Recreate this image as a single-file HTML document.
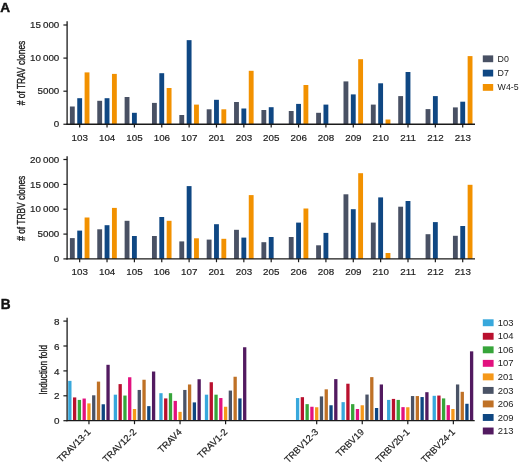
<!DOCTYPE html>
<html><head><meta charset="utf-8"><style>
html,body{margin:0;padding:0;background:#fff;}
svg{display:block;}
text{font-family:"Liberation Sans", sans-serif;}
</style></head><body>
<svg width="520" height="466" viewBox="0 0 520 466">
<rect width="520" height="466" fill="#fff"/>
<rect x="69.90" y="106.50" width="4.85" height="17.75" fill="#495164"/>
<rect x="77.25" y="98.20" width="4.85" height="26.05" fill="#0f4783"/>
<rect x="84.60" y="72.40" width="4.85" height="51.85" fill="#f29100"/>
<rect x="97.26" y="100.80" width="4.85" height="23.45" fill="#495164"/>
<rect x="104.61" y="98.20" width="4.85" height="26.05" fill="#0f4783"/>
<rect x="111.96" y="73.90" width="4.85" height="50.35" fill="#f29100"/>
<rect x="124.62" y="97.00" width="4.85" height="27.25" fill="#495164"/>
<rect x="131.97" y="112.80" width="4.85" height="11.45" fill="#0f4783"/>
<rect x="151.98" y="102.90" width="4.85" height="21.35" fill="#495164"/>
<rect x="159.33" y="73.20" width="4.85" height="51.05" fill="#0f4783"/>
<rect x="166.68" y="88.00" width="4.85" height="36.25" fill="#f29100"/>
<rect x="179.34" y="115.00" width="4.85" height="9.25" fill="#495164"/>
<rect x="186.69" y="40.15" width="4.85" height="84.10" fill="#0f4783"/>
<rect x="194.04" y="104.60" width="4.85" height="19.65" fill="#f29100"/>
<rect x="206.70" y="109.30" width="4.85" height="14.95" fill="#495164"/>
<rect x="214.05" y="99.80" width="4.85" height="24.45" fill="#0f4783"/>
<rect x="221.40" y="109.30" width="4.85" height="14.95" fill="#f29100"/>
<rect x="234.06" y="102.00" width="4.85" height="22.25" fill="#495164"/>
<rect x="241.41" y="108.50" width="4.85" height="15.75" fill="#0f4783"/>
<rect x="248.76" y="70.80" width="4.85" height="53.45" fill="#f29100"/>
<rect x="261.42" y="110.00" width="4.85" height="14.25" fill="#495164"/>
<rect x="268.77" y="107.20" width="4.85" height="17.05" fill="#0f4783"/>
<rect x="288.78" y="111.00" width="4.85" height="13.25" fill="#495164"/>
<rect x="296.13" y="103.90" width="4.85" height="20.35" fill="#0f4783"/>
<rect x="303.48" y="85.00" width="4.85" height="39.25" fill="#f29100"/>
<rect x="316.14" y="112.80" width="4.85" height="11.45" fill="#495164"/>
<rect x="323.49" y="104.60" width="4.85" height="19.65" fill="#0f4783"/>
<rect x="343.50" y="81.40" width="4.85" height="42.85" fill="#495164"/>
<rect x="350.85" y="94.40" width="4.85" height="29.85" fill="#0f4783"/>
<rect x="358.20" y="59.20" width="4.85" height="65.05" fill="#f29100"/>
<rect x="370.86" y="104.60" width="4.85" height="19.65" fill="#495164"/>
<rect x="378.21" y="83.30" width="4.85" height="40.95" fill="#0f4783"/>
<rect x="385.56" y="119.50" width="4.85" height="4.75" fill="#f29100"/>
<rect x="398.22" y="96.10" width="4.85" height="28.15" fill="#495164"/>
<rect x="405.57" y="72.00" width="4.85" height="52.25" fill="#0f4783"/>
<rect x="425.58" y="109.10" width="4.85" height="15.15" fill="#495164"/>
<rect x="432.93" y="96.10" width="4.85" height="28.15" fill="#0f4783"/>
<rect x="452.94" y="107.40" width="4.85" height="16.85" fill="#495164"/>
<rect x="460.29" y="101.70" width="4.85" height="22.55" fill="#0f4783"/>
<rect x="467.64" y="56.10" width="4.85" height="68.15" fill="#f29100"/>
<line x1="67.1" y1="21.2" x2="67.1" y2="124.85" stroke="#1a1a1a" stroke-width="1.3"/>
<line x1="66.5" y1="124.25" x2="475" y2="124.25" stroke="#1a1a1a" stroke-width="1.3"/>
<line x1="63.4" y1="25.0" x2="67.1" y2="25.0" stroke="#1a1a1a" stroke-width="1.2"/>
<line x1="63.4" y1="58.1" x2="67.1" y2="58.1" stroke="#1a1a1a" stroke-width="1.2"/>
<line x1="63.4" y1="91.2" x2="67.1" y2="91.2" stroke="#1a1a1a" stroke-width="1.2"/>
<line x1="63.4" y1="124.25" x2="67.1" y2="124.25" stroke="#1a1a1a" stroke-width="1.2"/>
<line x1="79.67" y1="124.25" x2="79.67" y2="127.55" stroke="#1a1a1a" stroke-width="1.2"/>
<line x1="107.03" y1="124.25" x2="107.03" y2="127.55" stroke="#1a1a1a" stroke-width="1.2"/>
<line x1="134.40" y1="124.25" x2="134.40" y2="127.55" stroke="#1a1a1a" stroke-width="1.2"/>
<line x1="161.76" y1="124.25" x2="161.76" y2="127.55" stroke="#1a1a1a" stroke-width="1.2"/>
<line x1="189.12" y1="124.25" x2="189.12" y2="127.55" stroke="#1a1a1a" stroke-width="1.2"/>
<line x1="216.48" y1="124.25" x2="216.48" y2="127.55" stroke="#1a1a1a" stroke-width="1.2"/>
<line x1="243.84" y1="124.25" x2="243.84" y2="127.55" stroke="#1a1a1a" stroke-width="1.2"/>
<line x1="271.19" y1="124.25" x2="271.19" y2="127.55" stroke="#1a1a1a" stroke-width="1.2"/>
<line x1="298.56" y1="124.25" x2="298.56" y2="127.55" stroke="#1a1a1a" stroke-width="1.2"/>
<line x1="325.92" y1="124.25" x2="325.92" y2="127.55" stroke="#1a1a1a" stroke-width="1.2"/>
<line x1="353.28" y1="124.25" x2="353.28" y2="127.55" stroke="#1a1a1a" stroke-width="1.2"/>
<line x1="380.64" y1="124.25" x2="380.64" y2="127.55" stroke="#1a1a1a" stroke-width="1.2"/>
<line x1="408.00" y1="124.25" x2="408.00" y2="127.55" stroke="#1a1a1a" stroke-width="1.2"/>
<line x1="435.36" y1="124.25" x2="435.36" y2="127.55" stroke="#1a1a1a" stroke-width="1.2"/>
<line x1="462.71" y1="124.25" x2="462.71" y2="127.55" stroke="#1a1a1a" stroke-width="1.2"/>
<rect x="69.90" y="238.10" width="4.85" height="20.80" fill="#495164"/>
<rect x="77.25" y="230.60" width="4.85" height="28.30" fill="#0f4783"/>
<rect x="84.60" y="217.50" width="4.85" height="41.40" fill="#f29100"/>
<rect x="97.26" y="229.30" width="4.85" height="29.60" fill="#495164"/>
<rect x="104.61" y="225.20" width="4.85" height="33.70" fill="#0f4783"/>
<rect x="111.96" y="207.90" width="4.85" height="51.00" fill="#f29100"/>
<rect x="124.62" y="220.80" width="4.85" height="38.10" fill="#495164"/>
<rect x="131.97" y="236.00" width="4.85" height="22.90" fill="#0f4783"/>
<rect x="151.98" y="236.00" width="4.85" height="22.90" fill="#495164"/>
<rect x="159.33" y="217.00" width="4.85" height="41.90" fill="#0f4783"/>
<rect x="166.68" y="220.80" width="4.85" height="38.10" fill="#f29100"/>
<rect x="179.34" y="241.40" width="4.85" height="17.50" fill="#495164"/>
<rect x="186.69" y="186.10" width="4.85" height="72.80" fill="#0f4783"/>
<rect x="194.04" y="238.30" width="4.85" height="20.60" fill="#f29100"/>
<rect x="206.70" y="239.60" width="4.85" height="19.30" fill="#495164"/>
<rect x="214.05" y="224.20" width="4.85" height="34.70" fill="#0f4783"/>
<rect x="221.40" y="238.80" width="4.85" height="20.10" fill="#f29100"/>
<rect x="234.06" y="229.80" width="4.85" height="29.10" fill="#495164"/>
<rect x="241.41" y="237.60" width="4.85" height="21.30" fill="#0f4783"/>
<rect x="248.76" y="195.10" width="4.85" height="63.80" fill="#f29100"/>
<rect x="261.42" y="242.20" width="4.85" height="16.70" fill="#495164"/>
<rect x="268.77" y="237.00" width="4.85" height="21.90" fill="#0f4783"/>
<rect x="288.78" y="237.00" width="4.85" height="21.90" fill="#495164"/>
<rect x="296.13" y="222.60" width="4.85" height="36.30" fill="#0f4783"/>
<rect x="303.48" y="208.50" width="4.85" height="50.40" fill="#f29100"/>
<rect x="316.14" y="245.30" width="4.85" height="13.60" fill="#495164"/>
<rect x="323.49" y="232.90" width="4.85" height="26.00" fill="#0f4783"/>
<rect x="343.50" y="194.30" width="4.85" height="64.60" fill="#495164"/>
<rect x="350.85" y="209.20" width="4.85" height="49.70" fill="#0f4783"/>
<rect x="358.20" y="173.20" width="4.85" height="85.70" fill="#f29100"/>
<rect x="370.86" y="222.60" width="4.85" height="36.30" fill="#495164"/>
<rect x="378.21" y="197.40" width="4.85" height="61.50" fill="#0f4783"/>
<rect x="385.56" y="253.00" width="4.85" height="5.90" fill="#f29100"/>
<rect x="398.22" y="206.70" width="4.85" height="52.20" fill="#495164"/>
<rect x="405.57" y="201.00" width="4.85" height="57.90" fill="#0f4783"/>
<rect x="425.58" y="234.20" width="4.85" height="24.70" fill="#495164"/>
<rect x="432.93" y="222.10" width="4.85" height="36.80" fill="#0f4783"/>
<rect x="452.94" y="235.80" width="4.85" height="23.10" fill="#495164"/>
<rect x="460.29" y="226.00" width="4.85" height="32.90" fill="#0f4783"/>
<rect x="467.64" y="184.80" width="4.85" height="74.10" fill="#f29100"/>
<line x1="67.1" y1="156.2" x2="67.1" y2="259.5" stroke="#1a1a1a" stroke-width="1.3"/>
<line x1="66.5" y1="258.9" x2="475" y2="258.9" stroke="#1a1a1a" stroke-width="1.3"/>
<line x1="63.4" y1="159.5" x2="67.1" y2="159.5" stroke="#1a1a1a" stroke-width="1.2"/>
<line x1="63.4" y1="184.4" x2="67.1" y2="184.4" stroke="#1a1a1a" stroke-width="1.2"/>
<line x1="63.4" y1="209.2" x2="67.1" y2="209.2" stroke="#1a1a1a" stroke-width="1.2"/>
<line x1="63.4" y1="234.1" x2="67.1" y2="234.1" stroke="#1a1a1a" stroke-width="1.2"/>
<line x1="63.4" y1="258.9" x2="67.1" y2="258.9" stroke="#1a1a1a" stroke-width="1.2"/>
<line x1="79.67" y1="258.9" x2="79.67" y2="262.2" stroke="#1a1a1a" stroke-width="1.2"/>
<line x1="107.03" y1="258.9" x2="107.03" y2="262.2" stroke="#1a1a1a" stroke-width="1.2"/>
<line x1="134.40" y1="258.9" x2="134.40" y2="262.2" stroke="#1a1a1a" stroke-width="1.2"/>
<line x1="161.76" y1="258.9" x2="161.76" y2="262.2" stroke="#1a1a1a" stroke-width="1.2"/>
<line x1="189.12" y1="258.9" x2="189.12" y2="262.2" stroke="#1a1a1a" stroke-width="1.2"/>
<line x1="216.48" y1="258.9" x2="216.48" y2="262.2" stroke="#1a1a1a" stroke-width="1.2"/>
<line x1="243.84" y1="258.9" x2="243.84" y2="262.2" stroke="#1a1a1a" stroke-width="1.2"/>
<line x1="271.19" y1="258.9" x2="271.19" y2="262.2" stroke="#1a1a1a" stroke-width="1.2"/>
<line x1="298.56" y1="258.9" x2="298.56" y2="262.2" stroke="#1a1a1a" stroke-width="1.2"/>
<line x1="325.92" y1="258.9" x2="325.92" y2="262.2" stroke="#1a1a1a" stroke-width="1.2"/>
<line x1="353.28" y1="258.9" x2="353.28" y2="262.2" stroke="#1a1a1a" stroke-width="1.2"/>
<line x1="380.64" y1="258.9" x2="380.64" y2="262.2" stroke="#1a1a1a" stroke-width="1.2"/>
<line x1="408.00" y1="258.9" x2="408.00" y2="262.2" stroke="#1a1a1a" stroke-width="1.2"/>
<line x1="435.36" y1="258.9" x2="435.36" y2="262.2" stroke="#1a1a1a" stroke-width="1.2"/>
<line x1="462.71" y1="258.9" x2="462.71" y2="262.2" stroke="#1a1a1a" stroke-width="1.2"/>
<rect x="482.8" y="55.40" width="10.4" height="6.8" fill="#495164"/>
<rect x="482.8" y="69.70" width="10.4" height="6.8" fill="#0f4783"/>
<rect x="482.8" y="84.00" width="10.4" height="6.8" fill="#f29100"/>
<rect x="68.20" y="380.86" width="3.3" height="39.84" fill="#38a8dc"/>
<rect x="72.98" y="397.42" width="3.3" height="23.28" fill="#b9102e"/>
<rect x="77.75" y="399.91" width="3.3" height="20.79" fill="#37a53a"/>
<rect x="82.53" y="398.54" width="3.3" height="22.16" fill="#e2117f"/>
<rect x="87.30" y="403.39" width="3.3" height="17.31" fill="#f5981a"/>
<rect x="92.08" y="395.30" width="3.3" height="25.40" fill="#4a5366"/>
<rect x="96.85" y="381.61" width="3.3" height="39.09" fill="#bf7126"/>
<rect x="101.62" y="404.27" width="3.3" height="16.43" fill="#0e4681"/>
<rect x="106.40" y="364.80" width="3.3" height="55.90" fill="#521a60"/>
<rect x="113.75" y="394.68" width="3.3" height="26.02" fill="#38a8dc"/>
<rect x="118.53" y="384.10" width="3.3" height="36.60" fill="#b9102e"/>
<rect x="123.30" y="395.55" width="3.3" height="25.15" fill="#37a53a"/>
<rect x="128.07" y="377.25" width="3.3" height="43.45" fill="#e2117f"/>
<rect x="132.85" y="409.00" width="3.3" height="11.70" fill="#f5981a"/>
<rect x="137.62" y="389.95" width="3.3" height="30.75" fill="#4a5366"/>
<rect x="142.40" y="379.74" width="3.3" height="40.96" fill="#bf7126"/>
<rect x="147.18" y="406.13" width="3.3" height="14.57" fill="#0e4681"/>
<rect x="151.95" y="371.52" width="3.3" height="49.18" fill="#521a60"/>
<rect x="159.30" y="393.19" width="3.3" height="27.51" fill="#38a8dc"/>
<rect x="164.08" y="398.41" width="3.3" height="22.29" fill="#b9102e"/>
<rect x="168.85" y="393.19" width="3.3" height="27.51" fill="#37a53a"/>
<rect x="173.62" y="400.90" width="3.3" height="19.80" fill="#e2117f"/>
<rect x="178.40" y="411.86" width="3.3" height="8.84" fill="#f5981a"/>
<rect x="183.18" y="389.95" width="3.3" height="30.75" fill="#4a5366"/>
<rect x="187.95" y="384.47" width="3.3" height="36.23" fill="#bf7126"/>
<rect x="192.73" y="402.40" width="3.3" height="18.30" fill="#0e4681"/>
<rect x="197.50" y="379.24" width="3.3" height="41.46" fill="#521a60"/>
<rect x="204.85" y="394.68" width="3.3" height="26.02" fill="#38a8dc"/>
<rect x="209.62" y="382.23" width="3.3" height="38.47" fill="#b9102e"/>
<rect x="214.40" y="394.68" width="3.3" height="26.02" fill="#37a53a"/>
<rect x="219.17" y="398.04" width="3.3" height="22.66" fill="#e2117f"/>
<rect x="223.95" y="406.76" width="3.3" height="13.94" fill="#f5981a"/>
<rect x="228.72" y="390.57" width="3.3" height="30.13" fill="#4a5366"/>
<rect x="233.50" y="376.75" width="3.3" height="43.95" fill="#bf7126"/>
<rect x="238.27" y="398.41" width="3.3" height="22.29" fill="#0e4681"/>
<rect x="243.05" y="347.25" width="3.3" height="73.45" fill="#521a60"/>
<rect x="295.95" y="398.04" width="3.3" height="22.66" fill="#38a8dc"/>
<rect x="300.72" y="397.17" width="3.3" height="23.53" fill="#b9102e"/>
<rect x="305.50" y="404.14" width="3.3" height="16.56" fill="#37a53a"/>
<rect x="310.27" y="406.76" width="3.3" height="13.94" fill="#e2117f"/>
<rect x="315.05" y="407.25" width="3.3" height="13.45" fill="#f5981a"/>
<rect x="319.82" y="396.42" width="3.3" height="24.28" fill="#4a5366"/>
<rect x="324.60" y="389.33" width="3.3" height="31.37" fill="#bf7126"/>
<rect x="329.38" y="405.26" width="3.3" height="15.44" fill="#0e4681"/>
<rect x="334.15" y="379.12" width="3.3" height="41.58" fill="#521a60"/>
<rect x="341.50" y="402.15" width="3.3" height="18.55" fill="#38a8dc"/>
<rect x="346.27" y="383.72" width="3.3" height="36.98" fill="#b9102e"/>
<rect x="351.05" y="404.14" width="3.3" height="16.56" fill="#37a53a"/>
<rect x="355.82" y="409.00" width="3.3" height="11.70" fill="#e2117f"/>
<rect x="360.60" y="405.26" width="3.3" height="15.44" fill="#f5981a"/>
<rect x="365.37" y="394.56" width="3.3" height="26.14" fill="#4a5366"/>
<rect x="370.15" y="377.12" width="3.3" height="43.57" fill="#bf7126"/>
<rect x="374.92" y="408.00" width="3.3" height="12.70" fill="#0e4681"/>
<rect x="379.70" y="384.47" width="3.3" height="36.23" fill="#521a60"/>
<rect x="387.05" y="399.91" width="3.3" height="20.79" fill="#38a8dc"/>
<rect x="391.82" y="398.91" width="3.3" height="21.79" fill="#b9102e"/>
<rect x="396.60" y="399.91" width="3.3" height="20.79" fill="#37a53a"/>
<rect x="401.37" y="407.13" width="3.3" height="13.57" fill="#e2117f"/>
<rect x="406.15" y="407.25" width="3.3" height="13.45" fill="#f5981a"/>
<rect x="410.92" y="396.05" width="3.3" height="24.65" fill="#4a5366"/>
<rect x="415.70" y="396.05" width="3.3" height="24.65" fill="#bf7126"/>
<rect x="420.47" y="397.05" width="3.3" height="23.65" fill="#0e4681"/>
<rect x="425.25" y="392.19" width="3.3" height="28.51" fill="#521a60"/>
<rect x="432.60" y="395.80" width="3.3" height="24.90" fill="#38a8dc"/>
<rect x="437.27" y="395.55" width="3.3" height="25.15" fill="#b9102e"/>
<rect x="441.94" y="398.41" width="3.3" height="22.29" fill="#37a53a"/>
<rect x="446.61" y="405.14" width="3.3" height="15.56" fill="#e2117f"/>
<rect x="451.28" y="409.00" width="3.3" height="11.70" fill="#f5981a"/>
<rect x="455.95" y="384.47" width="3.3" height="36.23" fill="#4a5366"/>
<rect x="460.62" y="391.82" width="3.3" height="28.88" fill="#bf7126"/>
<rect x="465.29" y="403.77" width="3.3" height="16.93" fill="#0e4681"/>
<rect x="469.96" y="351.35" width="3.3" height="69.35" fill="#521a60"/>
<line x1="67.1" y1="317.8" x2="67.1" y2="421.3" stroke="#1a1a1a" stroke-width="1.3"/>
<line x1="66.5" y1="420.7" x2="474.7" y2="420.7" stroke="#1a1a1a" stroke-width="1.3"/>
<line x1="63.4" y1="420.70" x2="67.1" y2="420.70" stroke="#1a1a1a" stroke-width="1.2"/>
<line x1="63.4" y1="395.80" x2="67.1" y2="395.80" stroke="#1a1a1a" stroke-width="1.2"/>
<line x1="63.4" y1="370.90" x2="67.1" y2="370.90" stroke="#1a1a1a" stroke-width="1.2"/>
<line x1="63.4" y1="346.00" x2="67.1" y2="346.00" stroke="#1a1a1a" stroke-width="1.2"/>
<line x1="63.4" y1="321.10" x2="67.1" y2="321.10" stroke="#1a1a1a" stroke-width="1.2"/>
<line x1="88.95" y1="420.7" x2="88.95" y2="424.2" stroke="#1a1a1a" stroke-width="1.2"/>
<line x1="134.50" y1="420.7" x2="134.50" y2="424.2" stroke="#1a1a1a" stroke-width="1.2"/>
<line x1="180.05" y1="420.7" x2="180.05" y2="424.2" stroke="#1a1a1a" stroke-width="1.2"/>
<line x1="225.60" y1="420.7" x2="225.60" y2="424.2" stroke="#1a1a1a" stroke-width="1.2"/>
<line x1="316.70" y1="420.7" x2="316.70" y2="424.2" stroke="#1a1a1a" stroke-width="1.2"/>
<line x1="362.25" y1="420.7" x2="362.25" y2="424.2" stroke="#1a1a1a" stroke-width="1.2"/>
<line x1="407.80" y1="420.7" x2="407.80" y2="424.2" stroke="#1a1a1a" stroke-width="1.2"/>
<line x1="453.35" y1="420.7" x2="453.35" y2="424.2" stroke="#1a1a1a" stroke-width="1.2"/>
<rect x="482.8" y="319.30" width="10.8" height="6.9" fill="#38a8dc"/>
<rect x="482.8" y="332.83" width="10.8" height="6.9" fill="#b9102e"/>
<rect x="482.8" y="346.36" width="10.8" height="6.9" fill="#37a53a"/>
<rect x="482.8" y="359.89" width="10.8" height="6.9" fill="#e2117f"/>
<rect x="482.8" y="373.42" width="10.8" height="6.9" fill="#f5981a"/>
<rect x="482.8" y="386.95" width="10.8" height="6.9" fill="#4a5366"/>
<rect x="482.8" y="400.48" width="10.8" height="6.9" fill="#bf7126"/>
<rect x="482.8" y="414.01" width="10.8" height="6.9" fill="#0e4681"/>
<rect x="482.8" y="427.54" width="10.8" height="6.9" fill="#521a60"/>
<defs><filter id="gs" x="0" y="0" width="100%" height="100%" filterUnits="userSpaceOnUse"><feColorMatrix type="saturate" values="0"/></filter></defs>
<g filter="url(#gs)">
<text x="0.3" y="11.8" font-size="13.6" font-weight="bold" fill="#111" stroke="#111" stroke-width="0.45">A</text>
<text transform="translate(59.3,28.1) scale(1.09,1)" text-anchor="end" font-size="9" fill="#1c1c1c" stroke="#1c1c1c" stroke-width="0.18">15 000</text>
<text transform="translate(59.3,61.2) scale(1.09,1)" text-anchor="end" font-size="9" fill="#1c1c1c" stroke="#1c1c1c" stroke-width="0.18">10 000</text>
<text transform="translate(59.3,94.3) scale(1.09,1)" text-anchor="end" font-size="9" fill="#1c1c1c" stroke="#1c1c1c" stroke-width="0.18">5000</text>
<text transform="translate(59.3,127.35) scale(1.09,1)" text-anchor="end" font-size="9" fill="#1c1c1c" stroke="#1c1c1c" stroke-width="0.18">0</text>
<text transform="translate(79.77499999999999,140.55) scale(1.09,1)" text-anchor="middle" font-size="9" fill="#1c1c1c" stroke="#1c1c1c" stroke-width="0.18">103</text>
<text transform="translate(107.13499999999999,140.55) scale(1.09,1)" text-anchor="middle" font-size="9" fill="#1c1c1c" stroke="#1c1c1c" stroke-width="0.18">104</text>
<text transform="translate(134.495,140.55) scale(1.09,1)" text-anchor="middle" font-size="9" fill="#1c1c1c" stroke="#1c1c1c" stroke-width="0.18">105</text>
<text transform="translate(161.85500000000002,140.55) scale(1.09,1)" text-anchor="middle" font-size="9" fill="#1c1c1c" stroke="#1c1c1c" stroke-width="0.18">106</text>
<text transform="translate(189.215,140.55) scale(1.09,1)" text-anchor="middle" font-size="9" fill="#1c1c1c" stroke="#1c1c1c" stroke-width="0.18">107</text>
<text transform="translate(216.57500000000002,140.55) scale(1.09,1)" text-anchor="middle" font-size="9" fill="#1c1c1c" stroke="#1c1c1c" stroke-width="0.18">201</text>
<text transform="translate(243.935,140.55) scale(1.09,1)" text-anchor="middle" font-size="9" fill="#1c1c1c" stroke="#1c1c1c" stroke-width="0.18">203</text>
<text transform="translate(271.295,140.55) scale(1.09,1)" text-anchor="middle" font-size="9" fill="#1c1c1c" stroke="#1c1c1c" stroke-width="0.18">205</text>
<text transform="translate(298.65500000000003,140.55) scale(1.09,1)" text-anchor="middle" font-size="9" fill="#1c1c1c" stroke="#1c1c1c" stroke-width="0.18">206</text>
<text transform="translate(326.01500000000004,140.55) scale(1.09,1)" text-anchor="middle" font-size="9" fill="#1c1c1c" stroke="#1c1c1c" stroke-width="0.18">208</text>
<text transform="translate(353.37500000000006,140.55) scale(1.09,1)" text-anchor="middle" font-size="9" fill="#1c1c1c" stroke="#1c1c1c" stroke-width="0.18">209</text>
<text transform="translate(380.73500000000007,140.55) scale(1.09,1)" text-anchor="middle" font-size="9" fill="#1c1c1c" stroke="#1c1c1c" stroke-width="0.18">210</text>
<text transform="translate(408.0950000000001,140.55) scale(1.09,1)" text-anchor="middle" font-size="9" fill="#1c1c1c" stroke="#1c1c1c" stroke-width="0.18">211</text>
<text transform="translate(435.4550000000001,140.55) scale(1.09,1)" text-anchor="middle" font-size="9" fill="#1c1c1c" stroke="#1c1c1c" stroke-width="0.18">212</text>
<text transform="translate(462.815,140.55) scale(1.09,1)" text-anchor="middle" font-size="9" fill="#1c1c1c" stroke="#1c1c1c" stroke-width="0.18">213</text>
<text transform="translate(24.6,73.0) rotate(-90) scale(0.84,1)" text-anchor="middle" font-size="10" fill="#1c1c1c" stroke="#1c1c1c" stroke-width="0.35"># of TRAV clones</text>
<text transform="translate(59.3,162.6) scale(1.09,1)" text-anchor="end" font-size="9" fill="#1c1c1c" stroke="#1c1c1c" stroke-width="0.18">20 000</text>
<text transform="translate(59.3,187.5) scale(1.09,1)" text-anchor="end" font-size="9" fill="#1c1c1c" stroke="#1c1c1c" stroke-width="0.18">15 000</text>
<text transform="translate(59.3,212.29999999999998) scale(1.09,1)" text-anchor="end" font-size="9" fill="#1c1c1c" stroke="#1c1c1c" stroke-width="0.18">10 000</text>
<text transform="translate(59.3,237.2) scale(1.09,1)" text-anchor="end" font-size="9" fill="#1c1c1c" stroke="#1c1c1c" stroke-width="0.18">5000</text>
<text transform="translate(59.3,262.0) scale(1.09,1)" text-anchor="end" font-size="9" fill="#1c1c1c" stroke="#1c1c1c" stroke-width="0.18">0</text>
<text transform="translate(79.77499999999999,275.05) scale(1.09,1)" text-anchor="middle" font-size="9" fill="#1c1c1c" stroke="#1c1c1c" stroke-width="0.18">103</text>
<text transform="translate(107.13499999999999,275.05) scale(1.09,1)" text-anchor="middle" font-size="9" fill="#1c1c1c" stroke="#1c1c1c" stroke-width="0.18">104</text>
<text transform="translate(134.495,275.05) scale(1.09,1)" text-anchor="middle" font-size="9" fill="#1c1c1c" stroke="#1c1c1c" stroke-width="0.18">105</text>
<text transform="translate(161.85500000000002,275.05) scale(1.09,1)" text-anchor="middle" font-size="9" fill="#1c1c1c" stroke="#1c1c1c" stroke-width="0.18">106</text>
<text transform="translate(189.215,275.05) scale(1.09,1)" text-anchor="middle" font-size="9" fill="#1c1c1c" stroke="#1c1c1c" stroke-width="0.18">107</text>
<text transform="translate(216.57500000000002,275.05) scale(1.09,1)" text-anchor="middle" font-size="9" fill="#1c1c1c" stroke="#1c1c1c" stroke-width="0.18">201</text>
<text transform="translate(243.935,275.05) scale(1.09,1)" text-anchor="middle" font-size="9" fill="#1c1c1c" stroke="#1c1c1c" stroke-width="0.18">203</text>
<text transform="translate(271.295,275.05) scale(1.09,1)" text-anchor="middle" font-size="9" fill="#1c1c1c" stroke="#1c1c1c" stroke-width="0.18">205</text>
<text transform="translate(298.65500000000003,275.05) scale(1.09,1)" text-anchor="middle" font-size="9" fill="#1c1c1c" stroke="#1c1c1c" stroke-width="0.18">206</text>
<text transform="translate(326.01500000000004,275.05) scale(1.09,1)" text-anchor="middle" font-size="9" fill="#1c1c1c" stroke="#1c1c1c" stroke-width="0.18">208</text>
<text transform="translate(353.37500000000006,275.05) scale(1.09,1)" text-anchor="middle" font-size="9" fill="#1c1c1c" stroke="#1c1c1c" stroke-width="0.18">209</text>
<text transform="translate(380.73500000000007,275.05) scale(1.09,1)" text-anchor="middle" font-size="9" fill="#1c1c1c" stroke="#1c1c1c" stroke-width="0.18">210</text>
<text transform="translate(408.0950000000001,275.05) scale(1.09,1)" text-anchor="middle" font-size="9" fill="#1c1c1c" stroke="#1c1c1c" stroke-width="0.18">211</text>
<text transform="translate(435.4550000000001,275.05) scale(1.09,1)" text-anchor="middle" font-size="9" fill="#1c1c1c" stroke="#1c1c1c" stroke-width="0.18">212</text>
<text transform="translate(462.815,275.05) scale(1.09,1)" text-anchor="middle" font-size="9" fill="#1c1c1c" stroke="#1c1c1c" stroke-width="0.18">213</text>
<text transform="translate(24.6,208.3) rotate(-90) scale(0.84,1)" text-anchor="middle" font-size="10" fill="#1c1c1c" stroke="#1c1c1c" stroke-width="0.35"># of TRBV clones</text>
<text transform="translate(497.6,61.70) scale(1.0,1)" font-size="8.8" fill="#1c1c1c">D0</text>
<text transform="translate(497.6,76.00) scale(1.0,1)" font-size="8.8" fill="#1c1c1c">D7</text>
<text transform="translate(497.6,90.30) scale(1.0,1)" font-size="8.8" fill="#1c1c1c">W4-5</text>
<text transform="translate(0.8,308.8) scale(0.88,1)" font-size="15.5" font-weight="bold" fill="#111" stroke="#111" stroke-width="0.45">B</text>
<text transform="translate(59.6,424.3) scale(1.1,1)" text-anchor="end" font-size="9" fill="#1c1c1c" stroke="#1c1c1c" stroke-width="0.18">0</text>
<text transform="translate(59.6,399.40000000000003) scale(1.1,1)" text-anchor="end" font-size="9" fill="#1c1c1c" stroke="#1c1c1c" stroke-width="0.18">2</text>
<text transform="translate(59.6,374.5) scale(1.1,1)" text-anchor="end" font-size="9" fill="#1c1c1c" stroke="#1c1c1c" stroke-width="0.18">4</text>
<text transform="translate(59.6,349.6) scale(1.1,1)" text-anchor="end" font-size="9" fill="#1c1c1c" stroke="#1c1c1c" stroke-width="0.18">6</text>
<text transform="translate(59.6,324.70000000000005) scale(1.1,1)" text-anchor="end" font-size="9" fill="#1c1c1c" stroke="#1c1c1c" stroke-width="0.18">8</text>
<text transform="translate(91.25,432.70) rotate(-45)" text-anchor="end" font-size="9.3" fill="#1c1c1c" stroke="#1c1c1c" stroke-width="0.2">TRAV13-1</text>
<text transform="translate(136.80,432.70) rotate(-45)" text-anchor="end" font-size="9.3" fill="#1c1c1c" stroke="#1c1c1c" stroke-width="0.2">TRAV12-2</text>
<text transform="translate(182.35,432.70) rotate(-45)" text-anchor="end" font-size="9.3" fill="#1c1c1c" stroke="#1c1c1c" stroke-width="0.2">TRAV4</text>
<text transform="translate(227.90,432.70) rotate(-45)" text-anchor="end" font-size="9.3" fill="#1c1c1c" stroke="#1c1c1c" stroke-width="0.2">TRAV1-2</text>
<text transform="translate(319.00,432.70) rotate(-45)" text-anchor="end" font-size="9.3" fill="#1c1c1c" stroke="#1c1c1c" stroke-width="0.2">TRBV12-3</text>
<text transform="translate(364.55,432.70) rotate(-45)" text-anchor="end" font-size="9.3" fill="#1c1c1c" stroke="#1c1c1c" stroke-width="0.2">TRBV19</text>
<text transform="translate(410.10,432.70) rotate(-45)" text-anchor="end" font-size="9.3" fill="#1c1c1c" stroke="#1c1c1c" stroke-width="0.2">TRBV20-1</text>
<text transform="translate(455.65,432.70) rotate(-45)" text-anchor="end" font-size="9.3" fill="#1c1c1c" stroke="#1c1c1c" stroke-width="0.2">TRBV24-1</text>
<text transform="translate(47.0,369.9) rotate(-90) scale(0.84,1)" text-anchor="middle" font-size="10" fill="#1c1c1c" stroke="#1c1c1c" stroke-width="0.35">Induction fold</text>
<text transform="translate(497.8,325.90) scale(1.05,1)" font-size="9" fill="#1c1c1c">103</text>
<text transform="translate(497.8,339.43) scale(1.05,1)" font-size="9" fill="#1c1c1c">104</text>
<text transform="translate(497.8,352.96) scale(1.05,1)" font-size="9" fill="#1c1c1c">106</text>
<text transform="translate(497.8,366.49) scale(1.05,1)" font-size="9" fill="#1c1c1c">107</text>
<text transform="translate(497.8,380.02) scale(1.05,1)" font-size="9" fill="#1c1c1c">201</text>
<text transform="translate(497.8,393.55) scale(1.05,1)" font-size="9" fill="#1c1c1c">203</text>
<text transform="translate(497.8,407.08) scale(1.05,1)" font-size="9" fill="#1c1c1c">206</text>
<text transform="translate(497.8,420.61) scale(1.05,1)" font-size="9" fill="#1c1c1c">209</text>
<text transform="translate(497.8,434.14) scale(1.05,1)" font-size="9" fill="#1c1c1c">213</text>
</g>
</svg>
</body></html>
